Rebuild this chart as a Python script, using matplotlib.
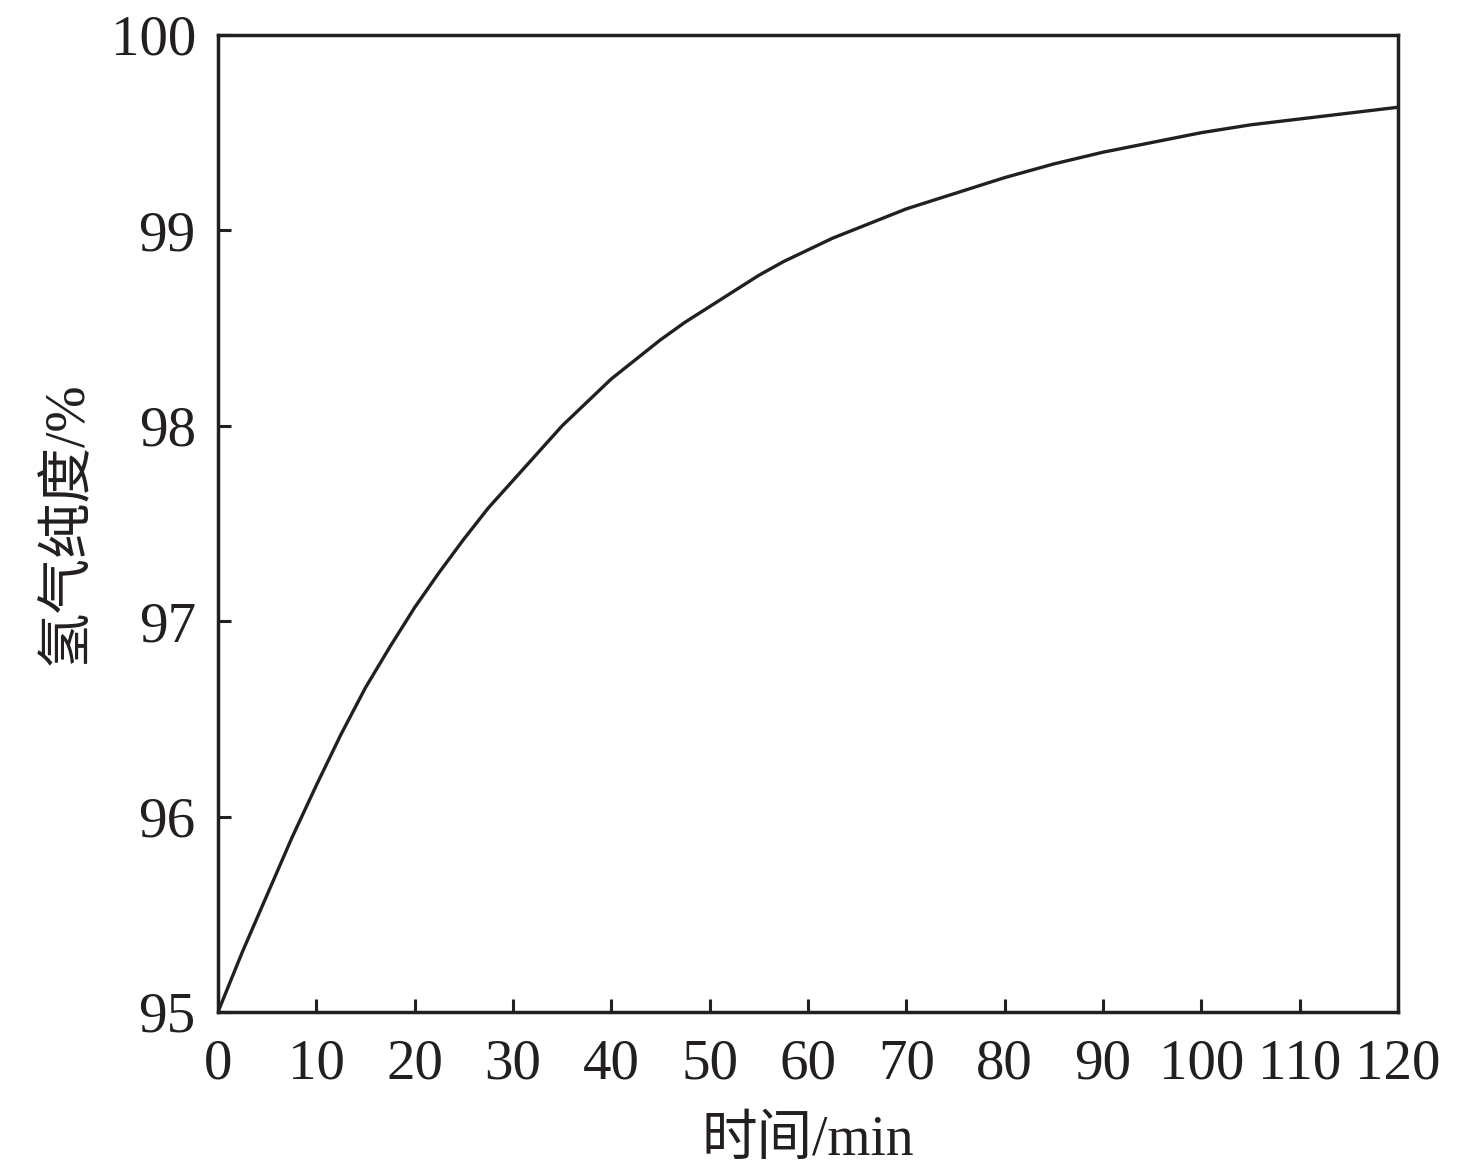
import matplotlib
matplotlib.use("Agg")
import matplotlib.pyplot as plt

plt.rcParams['font.family'] = ['Liberation Serif', 'Noto Sans CJK SC']

time_min = [0, 2.5, 5, 7.5, 10, 12.5, 15, 17.5, 20, 22.5, 25, 27.5, 30, 32.5,
            35, 37.5, 40, 42.5, 45, 47.5, 50, 52.5, 55, 57.5, 60, 62.5, 65,
            67.5, 70, 75, 80, 85, 90, 95, 100, 105, 110, 115, 120]
purity = [95.00, 95.31, 95.60, 95.89, 96.16, 96.42, 96.66, 96.87, 97.07, 97.25,
          97.42, 97.58, 97.72, 97.86, 98.00, 98.12, 98.24, 98.34, 98.44, 98.53,
          98.61, 98.69, 98.77, 98.84, 98.90, 98.96, 99.01, 99.06, 99.11, 99.19,
          99.27, 99.34, 99.40, 99.45, 99.50, 99.54, 99.57, 99.60, 99.63]
x_ticks = list(range(0, 121, 10))
y_ticks = [95, 96, 97, 98, 99, 100]
x_label = "时间/min"
y_label = "氢气纯度/%"

ink = "#231f20"
fig = plt.figure(figsize=(14.76, 11.73), dpi=100)
ax = fig.add_axes([0.1477, 0.1373, 0.7995, 0.8329])
ax.plot(time_min, purity, color=ink, lw=2.4, solid_joinstyle='round',
        solid_capstyle='butt')
ax.set_xlim(0, 120)
ax.set_ylim(95, 100)
ax.set_xticks(x_ticks)
ax.set_yticks(y_ticks)
for s in ax.spines.values():
    s.set_linewidth(2.5)
    s.set_color(ink)
ax.tick_params(axis='both', direction='in', length=9.5, width=2.2, color=ink,
               labelsize=41, labelcolor=ink)
ax.tick_params(axis='x', top=False, pad=19)
ax.tick_params(axis='y', right=False, pad=16)
ax.set_xlabel(x_label, fontsize=40, color=ink, labelpad=18)
ax.set_ylabel(y_label, fontsize=40, color=ink, labelpad=12)
fig.savefig("out.png", dpi=100, facecolor='white')
